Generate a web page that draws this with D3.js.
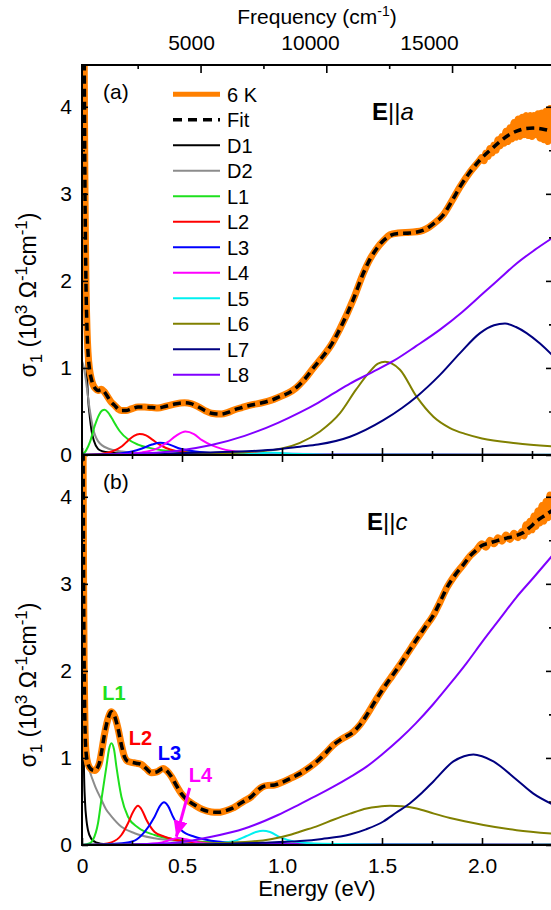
<!DOCTYPE html>
<html>
<head>
<meta charset="utf-8">
<script src="https://cdn.jsdelivr.net/npm/d3@7"></script>
<style>
  body { margin: 0; background: #fff; }
  text { font-family: "Liberation Sans", Arial, Helvetica, sans-serif; }
</style>
</head>
<body>
<svg id="chart" width="551" height="910"></svg>
<script>
// ---- panel (a): E || a, sigma_1 in 10^3 Ohm^-1 cm^-1 vs energy (eV) ----
const dataA = [[0.008,6.0],[0.011,4.6],[0.014,3.3],[0.017,2.5],[0.02,1.95],[0.025,1.45],[0.03,1.18],[0.038,0.98],[0.047,0.87],[0.055,0.81],[0.068,0.76],[0.08,0.74],[0.097,0.755],[0.11,0.73],[0.125,0.68],[0.145,0.61],[0.163,0.57],[0.18,0.53],[0.197,0.51],[0.22,0.51],[0.247,0.53],[0.28,0.55],[0.313,0.55],[0.35,0.545],[0.38,0.54],[0.42,0.56],[0.463,0.585],[0.513,0.6],[0.545,0.59],[0.58,0.555],[0.615,0.51],[0.647,0.48],[0.697,0.47],[0.73,0.49],[0.763,0.52],[0.8,0.545],[0.847,0.575],[0.9,0.6],[0.947,0.63],[0.99,0.67],[1.03,0.71],[1.07,0.77],[1.113,0.87],[1.157,1.0],[1.2,1.12],[1.25,1.28],[1.29,1.45],[1.357,1.79],[1.407,2.09],[1.44,2.25],[1.473,2.37],[1.51,2.47],[1.54,2.53],[1.58,2.55],[1.64,2.56],[1.69,2.57],[1.723,2.6],[1.76,2.66],[1.807,2.76],[1.85,2.92],[1.89,3.08],[1.94,3.25],[1.99,3.39],[2.0,3.42],[2.01,3.38],[2.02,3.47],[2.03,3.43],[2.04,3.52],[2.05,3.47],[2.06,3.56],[2.07,3.5],[2.08,3.62],[2.09,3.55],[2.1,3.66],[2.11,3.58],[2.12,3.72],[2.13,3.6],[2.14,3.76],[2.15,3.63],[2.16,3.82],[2.17,3.65],[2.18,3.86],[2.19,3.66],[2.2,3.88],[2.21,3.68],[2.22,3.9],[2.23,3.67],[2.24,3.9],[2.25,3.66],[2.26,3.9],[2.27,3.68],[2.28,3.92],[2.29,3.64],[2.3,3.93],[2.31,3.62],[2.32,3.95],[2.33,3.6],[2.34,3.98],[2.35,3.7]];
const fitA = [[0.008,6.0],[0.011,4.6],[0.014,3.3],[0.017,2.5],[0.02,1.95],[0.025,1.45],[0.03,1.18],[0.038,0.98],[0.047,0.87],[0.055,0.81],[0.068,0.76],[0.08,0.74],[0.097,0.75],[0.11,0.73],[0.125,0.68],[0.145,0.61],[0.163,0.57],[0.18,0.53],[0.197,0.51],[0.22,0.51],[0.247,0.53],[0.28,0.55],[0.313,0.55],[0.35,0.545],[0.38,0.54],[0.42,0.56],[0.463,0.585],[0.513,0.6],[0.545,0.59],[0.58,0.555],[0.615,0.51],[0.647,0.48],[0.697,0.47],[0.73,0.49],[0.763,0.52],[0.8,0.545],[0.847,0.575],[0.9,0.6],[0.947,0.63],[0.99,0.67],[1.03,0.71],[1.07,0.77],[1.113,0.87],[1.157,1.0],[1.2,1.12],[1.25,1.28],[1.29,1.45],[1.357,1.79],[1.407,2.09],[1.44,2.25],[1.473,2.37],[1.51,2.47],[1.54,2.52],[1.58,2.545],[1.64,2.55],[1.69,2.57],[1.723,2.6],[1.76,2.66],[1.807,2.76],[1.85,2.92],[1.89,3.08],[1.94,3.25],[1.99,3.39],[2.04,3.5],[2.09,3.6],[2.13,3.67],[2.173,3.72],[2.22,3.75],[2.257,3.755],[2.3,3.745],[2.35,3.72]];
const d1A = [[0,6],[0.005,4.0],[0.01,2.6],[0.015,1.7],[0.02,1.2],[0.025,0.9],[0.03,0.67],[0.04,0.42],[0.047,0.29],[0.06,0.16],[0.08,0.07],[0.1,0.045],[0.15,0.025],[0.25,0.01],[0.5,0.003],[1.0,0.001],[2.35,0]];
const d2A = [[0,1.08],[0.01,1.0],[0.02,0.85],[0.03,0.67],[0.04,0.5],[0.055,0.31],[0.08,0.16],[0.13,0.075],[0.2,0.04],[0.35,0.015],[0.6,0.006],[1.2,0.002],[2.35,0]];
const l1A = [[0,0],[0.02,0.05],[0.04,0.15],[0.063,0.33],[0.085,0.46],[0.1,0.51],[0.113,0.52],[0.13,0.49],[0.147,0.43],[0.17,0.34],[0.19,0.27],[0.23,0.18],[0.28,0.12],[0.33,0.085],[0.4,0.055],[0.55,0.03],[0.8,0.015],[1.2,0.008],[2.35,0.003]];
const l2A = [[0,0],[0.1,0.015],[0.15,0.04],[0.2,0.1],[0.23,0.165],[0.26,0.22],[0.288,0.24],[0.32,0.225],[0.35,0.18],[0.38,0.13],[0.42,0.08],[0.47,0.045],[0.55,0.022],[0.7,0.01],[1.0,0.004],[2.35,0.001]];
const l3A = [[0,0],[0.15,0.01],[0.25,0.04],[0.3,0.075],[0.35,0.12],[0.39,0.14],[0.43,0.125],[0.48,0.08],[0.55,0.045],[0.65,0.022],[0.8,0.01],[1.2,0.004],[2.35,0.001]];
const l4A = [[0,0],[0.2,0.01],[0.3,0.03],[0.38,0.08],[0.43,0.15],[0.47,0.22],[0.517,0.27],[0.56,0.24],[0.6,0.17],[0.65,0.11],[0.7,0.07],[0.8,0.035],[1.0,0.015],[1.5,0.006],[2.35,0.002]];
const l5A = [[0,0],[0.6,0.005],[0.85,0.015],[0.95,0.025],[1.05,0.015],[1.3,0.006],[2.35,0.002]];
const l6A = [[0,0],[0.5,0.01],[0.8,0.03],[0.9,0.045],[1.0,0.075],[1.09,0.14],[1.19,0.27],[1.29,0.48],[1.37,0.75],[1.44,0.96],[1.48,1.05],[1.515,1.07],[1.55,1.05],[1.59,0.98],[1.673,0.67],[1.757,0.44],[1.84,0.31],[1.92,0.24],[2.0,0.19],[2.17,0.135],[2.35,0.1]];
const l7A = [[0,0.005],[0.4,0.015],[0.64,0.03],[0.85,0.045],[0.98,0.065],[1.09,0.095],[1.18,0.12],[1.34,0.21],[1.507,0.4],[1.6,0.54],[1.673,0.67],[1.79,0.92],[1.89,1.17],[1.99,1.4],[2.06,1.49],[2.115,1.51],[2.17,1.47],[2.223,1.4],[2.29,1.28],[2.35,1.15]];
const l8A = [[0,0],[0.31,0.02],[0.48,0.05],[0.647,0.115],[0.813,0.22],[0.98,0.37],[1.09,0.49],[1.18,0.6],[1.26,0.71],[1.34,0.82],[1.45,0.95],[1.557,1.08],[1.67,1.25],[1.79,1.44],[1.9,1.64],[2.007,1.86],[2.09,2.03],[2.173,2.2],[2.26,2.35],[2.35,2.49]];

// ---- panel (b): E || c ----
const dataB = [[0.004,6.0],[0.006,4.2],[0.008,3.0],[0.011,2.0],[0.015,1.35],[0.02,1.07],[0.03,0.93],[0.045,0.87],[0.063,0.855],[0.078,0.89],[0.088,0.95],[0.1,1.1],[0.113,1.28],[0.13,1.45],[0.147,1.53],[0.163,1.48],[0.18,1.34],[0.197,1.15],[0.213,1.01],[0.23,0.96],[0.247,0.95],[0.27,0.94],[0.297,0.925],[0.32,0.88],[0.347,0.83],[0.375,0.84],[0.405,0.88],[0.425,0.85],[0.447,0.785],[0.47,0.69],[0.497,0.59],[0.53,0.51],[0.563,0.46],[0.6,0.41],[0.647,0.38],[0.68,0.375],[0.713,0.39],[0.75,0.42],[0.78,0.46],[0.815,0.51],[0.847,0.555],[0.875,0.62],[0.9,0.665],[0.93,0.685],[0.963,0.69],[1.0,0.72],[1.047,0.77],[1.09,0.82],[1.13,0.88],[1.18,0.97],[1.22,1.06],[1.257,1.15],[1.3,1.22],[1.357,1.3],[1.39,1.38],[1.423,1.49],[1.46,1.63],[1.507,1.8],[1.55,1.94],[1.59,2.07],[1.63,2.21],[1.673,2.36],[1.715,2.5],[1.757,2.64],[1.79,2.79],[1.823,2.95],[1.865,3.1],[1.907,3.22],[1.94,3.32],[1.973,3.39],[2.0,3.46],[2.02,3.42],[2.04,3.5],[2.06,3.46],[2.08,3.53],[2.1,3.49],[2.12,3.56],[2.14,3.51],[2.16,3.58],[2.18,3.53],[2.2,3.6],[2.21,3.55],[2.22,3.68],[2.23,3.6],[2.24,3.72],[2.25,3.62],[2.26,3.78],[2.27,3.66],[2.28,3.84],[2.29,3.7],[2.3,3.9],[2.31,3.72],[2.32,3.95],[2.33,3.76],[2.34,4.02],[2.35,3.85]];
const fitB = [[0.004,6.0],[0.006,4.2],[0.008,3.0],[0.011,2.0],[0.015,1.35],[0.02,1.07],[0.03,0.93],[0.045,0.87],[0.063,0.855],[0.078,0.89],[0.088,0.95],[0.1,1.1],[0.113,1.28],[0.13,1.45],[0.147,1.53],[0.163,1.48],[0.18,1.34],[0.197,1.15],[0.213,1.01],[0.23,0.96],[0.247,0.95],[0.27,0.94],[0.297,0.925],[0.32,0.88],[0.347,0.83],[0.375,0.84],[0.405,0.88],[0.425,0.85],[0.447,0.785],[0.47,0.69],[0.497,0.59],[0.53,0.51],[0.563,0.46],[0.6,0.41],[0.647,0.38],[0.68,0.375],[0.713,0.39],[0.75,0.42],[0.78,0.46],[0.815,0.51],[0.847,0.555],[0.875,0.62],[0.9,0.665],[0.93,0.685],[0.963,0.69],[1.0,0.72],[1.047,0.77],[1.09,0.82],[1.13,0.88],[1.18,0.97],[1.22,1.06],[1.257,1.15],[1.3,1.22],[1.357,1.3],[1.39,1.38],[1.423,1.49],[1.46,1.63],[1.507,1.8],[1.55,1.94],[1.59,2.07],[1.63,2.21],[1.673,2.36],[1.715,2.5],[1.757,2.64],[1.79,2.79],[1.823,2.95],[1.865,3.1],[1.907,3.22],[1.94,3.32],[1.973,3.39],[2.0,3.44],[2.04,3.47],[2.08,3.5],[2.123,3.525],[2.165,3.55],[2.207,3.59],[2.24,3.65],[2.273,3.72],[2.31,3.78],[2.35,3.84]];
const d1B = [[0,5.5],[0.003,3.0],[0.006,1.6],[0.01,0.85],[0.015,0.5],[0.022,0.29],[0.03,0.17],[0.047,0.07],[0.07,0.03],[0.12,0.01],[0.3,0.002],[2.35,0]];
const d2B = [[0,1.01],[0.02,0.96],[0.047,0.79],[0.07,0.65],[0.097,0.52],[0.12,0.41],[0.147,0.33],[0.197,0.21],[0.263,0.135],[0.363,0.077],[0.5,0.045],[0.8,0.02],[1.2,0.01],[2.35,0.003]];
const l1B = [[0,0],[0.04,0.02],[0.055,0.06],[0.08,0.25],[0.097,0.52],[0.122,0.9],[0.135,1.1],[0.147,1.17],[0.16,1.1],[0.172,0.9],[0.197,0.555],[0.23,0.325],[0.28,0.2],[0.363,0.115],[0.45,0.07],[0.55,0.045],[0.8,0.02],[1.2,0.01],[2.35,0.003]];
const l2B = [[0,0],[0.1,0.01],[0.147,0.03],[0.197,0.115],[0.23,0.25],[0.255,0.38],[0.28,0.45],[0.3,0.4],[0.322,0.29],[0.363,0.15],[0.413,0.095],[0.52,0.04],[0.7,0.018],[1.0,0.008],[2.35,0.002]];
const l3B = [[0,0],[0.2,0.02],[0.263,0.05],[0.313,0.15],[0.363,0.325],[0.39,0.45],[0.41,0.49],[0.43,0.45],[0.455,0.325],[0.497,0.17],[0.563,0.095],[0.647,0.05],[0.8,0.022],[1.2,0.008],[2.35,0.002]];
const l4B = [[0,0],[0.3,0.01],[0.4,0.03],[0.45,0.065],[0.48,0.08],[0.52,0.065],[0.58,0.03],[0.7,0.012],[1.0,0.005],[2.35,0.001]];
const l5B = [[0,0],[0.6,0.01],[0.75,0.04],[0.82,0.1],[0.87,0.15],[0.905,0.165],[0.94,0.15],[0.99,0.09],[1.06,0.04],[1.2,0.015],[1.6,0.005],[2.35,0.002]];
const l6B = [[0,0],[0.5,0.01],[0.847,0.04],[0.95,0.07],[1.047,0.12],[1.1,0.16],[1.18,0.22],[1.257,0.29],[1.34,0.36],[1.423,0.42],[1.48,0.44],[1.54,0.45],[1.6,0.445],[1.673,0.42],[1.76,0.36],[1.84,0.31],[2.007,0.23],[2.173,0.17],[2.35,0.13]];
const l7B = [[0,0.002],[0.6,0.01],[0.9,0.025],[1.09,0.045],[1.2,0.07],[1.34,0.12],[1.42,0.18],[1.507,0.27],[1.57,0.37],[1.64,0.48],[1.7,0.6],[1.757,0.73],[1.857,0.96],[1.91,1.02],[1.957,1.04],[2.0,1.02],[2.057,0.96],[2.173,0.75],[2.257,0.59],[2.35,0.47]];
const l8B = [[0,0],[0.3,0.01],[0.48,0.03],[0.647,0.095],[0.813,0.19],[0.98,0.345],[1.09,0.47],[1.18,0.575],[1.257,0.67],[1.34,0.78],[1.423,0.9],[1.5,1.04],[1.59,1.22],[1.67,1.4],[1.757,1.62],[1.84,1.85],[1.923,2.09],[2.0,2.33],[2.09,2.6],[2.17,2.84],[2.257,3.07],[2.35,3.32]];

// names / colours of the fit components, axis ticks
const compNames = ["D1", "D2", "L1", "L2", "L3", "L4", "L5", "L6", "L7", "L8"];
const compColors = ["#000000", "#8c8c8c", "#1ee01e", "#ff0000", "#0000ff", "#ff00ff", "#00f0f0", "#808000", "#000080", "#8000ff"];
const energyMajor = [0, 0.5, 1, 1.5, 2];
const energyMinor = [0.25, 0.75, 1.25, 1.75, 2.25];
const sigmaMajor = [0, 1, 2, 3, 4];
const sigmaMinor = [0.5, 1.5, 2.5, 3.5];
const freqMajor = [5000, 10000, 15000];
const freqMinor = [2500, 7500, 12500, 17500];
const freqEdges = [286, 18974];      // cm^-1 at left / right plot edge (tick marks)
const freqLabelEdges = [420, 20168]; // label placement as in the original figure
// in-panel labels of panel (b): [name, energy, sigma, colour]
const peakLabelsB = [["L1", 0.16, 1.75, "#1ee01e"], ["L2", 0.2925, 1.23, "#ff0000"], ["L3", 0.4375, 1.057, "#0000ff"], ["L4", 0.5925, 0.805, "#ff00ff"]];
const arrowL4 = [[0.5385, 0.655], [0.4715, 0.095]];

const svg = d3.select("#chart");
const font = '"Liberation Sans", Arial, Helvetica, sans-serif';
const L = 82, R = 552;

const x = d3.scaleLinear().domain([0, 2.35]).range([L, R]);
const fx = d3.scaleLinear().domain(freqEdges).range([L, R]);
const fxLab = d3.scaleLinear().domain(freqLabelEdges).range([L, R]);

const defs = svg.append("defs");
defs.append("marker").attr("id", "arrowhead")
  .attr("markerUnits", "userSpaceOnUse")
  .attr("markerWidth", 18).attr("markerHeight", 14)
  .attr("refX", 16).attr("refY", 7).attr("orient", "auto")
  .append("path").attr("d", "M0,0 L16,7 L0,14 Z").attr("fill", "#ff00ff");

function styleAxis(sel, size) {
  sel.attr("font-family", font).attr("font-size", size);
  sel.select(".domain").remove();
  sel.selectAll(".tick line").attr("stroke", "#000").attr("stroke-width", 1.6);
  sel.selectAll(".tick text").attr("fill", "#000");
}

const panels = [
  {id: "a", top: 65, bottom: 455, data: dataA, fit: fitA, comps: [d1A, d2A, l1A, l2A, l3A, l4A, l5A, l6A, l7A, l8A], tag: "(a)", pol: "a", last: false},
  {id: "b", top: 455, bottom: 845, data: dataB, fit: fitB, comps: [d1B, d2B, l1B, l2B, l3B, l4B, l5B, l6B, l7B, l8B], tag: "(b)", pol: "c", last: true}
];

panels.forEach(p => {
  const y = d3.scaleLinear().domain([0, 4.48]).range([p.bottom, p.top]);
  const g = svg.append("g");

  defs.append("clipPath").attr("id", "clip-" + p.id)
    .append("rect").attr("x", L).attr("y", p.top).attr("width", R - L).attr("height", p.bottom - p.top);

  const plot = g.append("g").attr("clip-path", `url(#clip-${p.id})`);
  const line = d3.line().x(d => x(d[0])).y(d => y(d[1])).curve(d3.curveMonotoneX);

  // fit components
  p.comps.forEach((c, i) => {
    plot.append("path").attr("d", line(c)).attr("fill", "none")
      .attr("stroke", compColors[i]).attr("stroke-width", 2);
  });
  // measured 6 K spectrum
  plot.append("path").attr("d", line(p.data)).attr("fill", "none")
    .attr("stroke", "#ff8000").attr("stroke-width", 7)
    .attr("stroke-linejoin", "round").attr("stroke-linecap", "round");
  // total fit
  plot.append("path").attr("d", line(p.fit)).attr("fill", "none")
    .attr("stroke", "#000").attr("stroke-width", 3.5).attr("stroke-dasharray", "8,5");

  // axes (ticks inward)
  g.append("g").attr("transform", `translate(${L},0)`)
    .call(d3.axisLeft(y).tickValues(sigmaMajor).tickSize(-6).tickPadding(10).tickFormat(d3.format("d")))
    .call(s => styleAxis(s, 21));
  g.append("g").attr("transform", `translate(${L},0)`)
    .call(d3.axisLeft(y).tickValues(sigmaMinor).tickSize(-3).tickFormat(""))
    .call(s => styleAxis(s, 21));
  g.append("g").attr("transform", `translate(${R},0)`)
    .call(d3.axisRight(y).tickValues(sigmaMajor).tickSize(-6).tickFormat(""))
    .call(s => styleAxis(s, 21));
  g.append("g").attr("transform", `translate(${R},0)`)
    .call(d3.axisRight(y).tickValues(sigmaMinor).tickSize(-3).tickFormat(""))
    .call(s => styleAxis(s, 21));

  const bottomAxis = d3.axisBottom(x).tickValues(energyMajor).tickSize(-7);
  if (p.last) {
    bottomAxis.tickPadding(13).tickFormat(d => d === 0 ? "0" : d3.format(".1f")(d));
  } else {
    bottomAxis.tickFormat("");
  }
  g.append("g").attr("transform", `translate(0,${p.bottom})`).call(bottomAxis).call(s => styleAxis(s, 21));
  g.append("g").attr("transform", `translate(0,${p.bottom})`)
    .call(d3.axisBottom(x).tickValues(energyMinor).tickSize(-4).tickFormat(""))
    .call(s => styleAxis(s, 21));

  if (p.id === "a") {
    // frequency axis on top
    g.append("g").attr("transform", `translate(0,${p.top})`)
      .call(d3.axisTop(fx).tickValues(freqMajor).tickSize(-8).tickFormat(""))
      .call(s => styleAxis(s, 21));
    g.append("g").attr("transform", `translate(0,${p.top})`)
      .call(d3.axisTop(fx).tickValues(freqMinor).tickSize(-4).tickFormat(""))
      .call(s => styleAxis(s, 21));
    g.append("g").attr("transform", `translate(0,${p.top})`)
      .call(d3.axisTop(fxLab).tickValues(freqMajor).tickSize(0).tickPadding(15).tickFormat(d3.format("d")))
      .call(s => styleAxis(s, 21));
    const ft = svg.append("text").attr("x", 317).attr("y", 24).attr("text-anchor", "middle")
      .attr("font-size", 21).attr("fill", "#000");
    ft.append("tspan").text("Frequency (cm");
    ft.append("tspan").attr("font-size", 14).attr("dy", -8).text("-1");
    ft.append("tspan").attr("dy", 8).text(")");
  } else {
    g.append("g").attr("transform", `translate(0,${p.top})`)
      .call(d3.axisTop(x).tickValues(energyMajor).tickSize(-7).tickFormat(""))
      .call(s => styleAxis(s, 21));
    g.append("g").attr("transform", `translate(0,${p.top})`)
      .call(d3.axisTop(x).tickValues(energyMinor).tickSize(-4).tickFormat(""))
      .call(s => styleAxis(s, 21));
  }

  // frame
  g.append("rect").attr("x", L).attr("y", p.top).attr("width", R - L).attr("height", p.bottom - p.top)
    .attr("fill", "none").attr("stroke", "#000").attr("stroke-width", 2);

  // y title
  const cy = (p.top + p.bottom) / 2 + 35;
  const yt = g.append("text").attr("transform", `translate(36,${cy}) rotate(-90)`)
    .attr("text-anchor", "middle").attr("font-size", 23).attr("fill", "#000");
  yt.append("tspan").text("σ");
  yt.append("tspan").attr("font-size", 17).attr("dy", 6).text("1");
  yt.append("tspan").attr("dy", -6).text("  (10");
  yt.append("tspan").attr("font-size", 17).attr("dy", -9).text("3");
  yt.append("tspan").attr("dy", 9).text(" Ω");
  yt.append("tspan").attr("font-size", 17).attr("dy", -9).text("-1");
  yt.append("tspan").attr("dy", 9).text("cm");
  yt.append("tspan").attr("font-size", 17).attr("dy", -9).text("-1");
  yt.append("tspan").attr("dy", 9).text(")");

  // panel tag and polarisation
  g.append("text").attr("x", 103).attr("y", p.top + 34).attr("font-size", 21).attr("fill", "#000").text(p.tag);
  const pol = g.append("text").attr("x", p.id === "a" ? 372 : 367).attr("y", p.top + (p.id === "a" ? 55 : 75))
    .attr("font-size", 24).attr("fill", "#000");
  pol.append("tspan").attr("font-weight", "bold").text("E");
  pol.append("tspan").text("||");
  pol.append("tspan").attr("font-style", "italic").text(p.pol);

  if (p.id === "a") {
    // legend
    const legend = g.append("g");
    const items = [{name: "6 K", color: "#ff8000", w: 5, dash: null}, {name: "Fit", color: "#000", w: 3.5, dash: "9,6"}]
      .concat(compNames.map((n, i) => ({name: n, color: compColors[i], w: 2, dash: null})));
    items.forEach((it, i) => {
      const yy = 94.3 + i * 25.5;
      legend.append("line").attr("x1", 173).attr("x2", 220).attr("y1", yy).attr("y2", yy)
        .attr("stroke", it.color).attr("stroke-width", it.w).attr("stroke-dasharray", it.dash);
      legend.append("text").attr("x", 227).attr("y", yy).attr("dy", "0.36em")
        .attr("font-size", 20).attr("fill", "#000").text(it.name);
    });
  } else {
    // peak labels and arrow
    peakLabelsB.forEach(l => {
      g.append("text").attr("x", x(l[1])).attr("y", y(l[2])).attr("dy", "0.36em")
        .attr("text-anchor", "middle").attr("font-size", 20).attr("font-weight", "bold")
        .attr("fill", l[3]).text(l[0]);
    });
    g.append("line")
      .attr("x1", x(arrowL4[0][0])).attr("y1", y(arrowL4[0][1]))
      .attr("x2", x(arrowL4[1][0])).attr("y2", y(arrowL4[1][1]))
      .attr("stroke", "#ff00ff").attr("stroke-width", 3).attr("marker-end", "url(#arrowhead)");
    // energy title
    g.append("text").attr("x", (L + R) / 2).attr("y", 896).attr("text-anchor", "middle")
      .attr("font-size", 22).attr("fill", "#000").text("Energy (eV)");
  }
});
</script>
</body>
</html>
